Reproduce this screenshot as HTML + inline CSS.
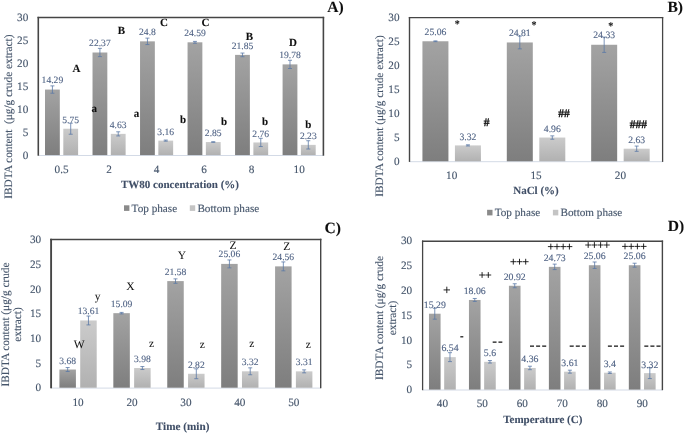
<!DOCTYPE html>
<html><head><meta charset="utf-8"><title>Figure</title>
<style>
html,body{margin:0;padding:0;background:#fff;}
body{width:685px;height:433px;overflow:hidden;font-family:"Liberation Serif",serif;}
svg{display:block;font-family:"Liberation Serif",serif;text-rendering:geometricPrecision;}
</style></head><body>
<svg width="685" height="433" viewBox="0 0 685 433">
<defs>
<linearGradient id="gt" x1="0" y1="0" x2="0" y2="1"><stop offset="0" stop-color="#a3a3a3"/><stop offset="1" stop-color="#7e7e7e"/></linearGradient>
<linearGradient id="gb" x1="0" y1="0" x2="0" y2="1"><stop offset="0" stop-color="#cbcbcb"/><stop offset="1" stop-color="#b1b1b1"/></linearGradient>
<filter id="soft" x="-2%" y="-2%" width="104%" height="104%"><feGaussianBlur stdDeviation="0.4"/></filter>
</defs>
<rect width="685" height="433" fill="#fff"/>
<g filter="url(#soft)">
<text x="28.30" y="158.80" font-size="11.2" fill="#44546a" stroke="#44546a" stroke-width="0.12" text-anchor="end" font-weight="normal" >0</text>
<text x="28.30" y="135.87" font-size="11.2" fill="#44546a" stroke="#44546a" stroke-width="0.12" text-anchor="end" font-weight="normal" >5</text>
<text x="28.30" y="112.93" font-size="11.2" fill="#44546a" stroke="#44546a" stroke-width="0.12" text-anchor="end" font-weight="normal" >10</text>
<text x="28.30" y="90.00" font-size="11.2" fill="#44546a" stroke="#44546a" stroke-width="0.12" text-anchor="end" font-weight="normal" >15</text>
<text x="28.30" y="67.07" font-size="11.2" fill="#44546a" stroke="#44546a" stroke-width="0.12" text-anchor="end" font-weight="normal" >20</text>
<text x="28.30" y="44.13" font-size="11.2" fill="#44546a" stroke="#44546a" stroke-width="0.12" text-anchor="end" font-weight="normal" >25</text>
<text x="28.30" y="21.20" font-size="11.2" fill="#44546a" stroke="#44546a" stroke-width="0.12" text-anchor="end" font-weight="normal" >30</text>
<path d="M38.30 155.50H323.40" stroke="#d3dae6" stroke-width="1"/>
<rect x="45.01" y="89.56" width="14.80" height="65.54" fill="url(#gt)"/>
<path d="M52.41 85.89V93.23M50.41 85.89H54.41M50.41 93.23H54.41" stroke="#5b78a6" stroke-width="0.8" fill="none"/>
<text x="52.41" y="83.46" font-size="9.6" fill="#4f6284" stroke="#4f6284" stroke-width="0.12" text-anchor="middle" font-weight="normal" >14.29</text>
<rect x="63.31" y="128.73" width="14.80" height="26.37" fill="url(#gb)"/>
<path d="M70.71 123.22V134.23M68.71 123.22H72.71M68.71 134.23H72.71" stroke="#5b78a6" stroke-width="0.8" fill="none"/>
<text x="70.71" y="123.13" font-size="9.6" fill="#4f6284" stroke="#4f6284" stroke-width="0.12" text-anchor="middle" font-weight="normal" >5.75</text>
<text x="61.56" y="172.50" font-size="11.2" fill="#44546a" stroke="#44546a" stroke-width="0.12" text-anchor="middle" font-weight="normal" >0.5</text>
<rect x="92.52" y="52.50" width="14.80" height="102.60" fill="url(#gt)"/>
<path d="M99.92 48.37V56.62M97.92 48.37H101.92M97.92 56.62H101.92" stroke="#5b78a6" stroke-width="0.8" fill="none"/>
<text x="99.92" y="46.40" font-size="9.6" fill="#4f6284" stroke="#4f6284" stroke-width="0.12" text-anchor="middle" font-weight="normal" >22.37</text>
<rect x="110.82" y="133.86" width="14.80" height="21.24" fill="url(#gb)"/>
<path d="M118.22 131.80V135.93M116.22 131.80H120.22M116.22 135.93H120.22" stroke="#5b78a6" stroke-width="0.8" fill="none"/>
<text x="118.22" y="128.26" font-size="9.6" fill="#4f6284" stroke="#4f6284" stroke-width="0.12" text-anchor="middle" font-weight="normal" >4.63</text>
<text x="109.07" y="172.50" font-size="11.2" fill="#44546a" stroke="#44546a" stroke-width="0.12" text-anchor="middle" font-weight="normal" >2</text>
<rect x="140.04" y="41.35" width="14.80" height="113.75" fill="url(#gt)"/>
<path d="M147.44 38.14V44.56M145.44 38.14H149.44M145.44 44.56H149.44" stroke="#5b78a6" stroke-width="0.8" fill="none"/>
<text x="147.44" y="35.25" font-size="9.6" fill="#4f6284" stroke="#4f6284" stroke-width="0.12" text-anchor="middle" font-weight="normal" >24.8</text>
<rect x="158.34" y="140.61" width="14.80" height="14.49" fill="url(#gb)"/>
<path d="M165.74 140.06V141.16M163.74 140.06H167.74M163.74 141.16H167.74" stroke="#5b78a6" stroke-width="0.8" fill="none"/>
<text x="165.74" y="135.01" font-size="9.6" fill="#4f6284" stroke="#4f6284" stroke-width="0.12" text-anchor="middle" font-weight="normal" >3.16</text>
<text x="156.59" y="172.50" font-size="11.2" fill="#44546a" stroke="#44546a" stroke-width="0.12" text-anchor="middle" font-weight="normal" >4</text>
<rect x="187.56" y="42.31" width="14.80" height="112.79" fill="url(#gt)"/>
<path d="M194.96 41.40V43.23M192.96 41.40H196.96M192.96 43.23H196.96" stroke="#5b78a6" stroke-width="0.8" fill="none"/>
<text x="194.96" y="36.21" font-size="9.6" fill="#4f6284" stroke="#4f6284" stroke-width="0.12" text-anchor="middle" font-weight="normal" >24.59</text>
<rect x="205.86" y="142.03" width="14.80" height="13.07" fill="url(#gb)"/>
<path d="M213.26 141.75V142.30M211.26 141.75H215.26M211.26 142.30H215.26" stroke="#5b78a6" stroke-width="0.8" fill="none"/>
<text x="213.26" y="136.43" font-size="9.6" fill="#4f6284" stroke="#4f6284" stroke-width="0.12" text-anchor="middle" font-weight="normal" >2.85</text>
<text x="204.11" y="172.50" font-size="11.2" fill="#44546a" stroke="#44546a" stroke-width="0.12" text-anchor="middle" font-weight="normal" >6</text>
<rect x="235.07" y="54.88" width="14.80" height="100.22" fill="url(#gt)"/>
<path d="M242.47 53.05V56.72M240.47 53.05H244.47M240.47 56.72H244.47" stroke="#5b78a6" stroke-width="0.8" fill="none"/>
<text x="242.47" y="48.78" font-size="9.6" fill="#4f6284" stroke="#4f6284" stroke-width="0.12" text-anchor="middle" font-weight="normal" >21.85</text>
<rect x="253.37" y="142.44" width="14.80" height="12.66" fill="url(#gb)"/>
<path d="M260.77 138.31V146.57M258.77 138.31H262.77M258.77 146.57H262.77" stroke="#5b78a6" stroke-width="0.8" fill="none"/>
<text x="260.77" y="136.84" font-size="9.6" fill="#4f6284" stroke="#4f6284" stroke-width="0.12" text-anchor="middle" font-weight="normal" >2.76</text>
<text x="251.62" y="172.50" font-size="11.2" fill="#44546a" stroke="#44546a" stroke-width="0.12" text-anchor="middle" font-weight="normal" >8</text>
<rect x="282.59" y="64.38" width="14.80" height="90.72" fill="url(#gt)"/>
<path d="M289.99 60.25V68.50M287.99 60.25H291.99M287.99 68.50H291.99" stroke="#5b78a6" stroke-width="0.8" fill="none"/>
<text x="289.99" y="58.28" font-size="9.6" fill="#4f6284" stroke="#4f6284" stroke-width="0.12" text-anchor="middle" font-weight="normal" >19.78</text>
<rect x="300.89" y="144.87" width="14.80" height="10.23" fill="url(#gb)"/>
<path d="M308.29 140.74V149.00M306.29 140.74H310.29M306.29 149.00H310.29" stroke="#5b78a6" stroke-width="0.8" fill="none"/>
<text x="308.29" y="139.27" font-size="9.6" fill="#4f6284" stroke="#4f6284" stroke-width="0.12" text-anchor="middle" font-weight="normal" >2.23</text>
<text x="299.14" y="172.50" font-size="11.2" fill="#44546a" stroke="#44546a" stroke-width="0.12" text-anchor="middle" font-weight="normal" >10</text>
<path d="M38.30 155.70V16.85" stroke="#454545" stroke-width="1.6" fill="none"/>
<path d="M323.40 155.70V16.85" stroke="#454545" stroke-width="1.6" fill="none"/>
<path d="M37.50 17.50H324.20" stroke="#454545" stroke-width="1.3" fill="none"/>
<text x="180.00" y="187.70" font-size="11" fill="#3f4e66" stroke="#3f4e66" stroke-width="0.1" text-anchor="middle" font-weight="bold" >TW80 concentration (%)</text>
<text transform="translate(12.20 116.60) rotate(-90)" font-size="11.3" fill="#44546a" stroke="#44546a" stroke-width="0.12" text-anchor="middle">IBDTA content&#160; (μg/g crude extract)</text>
<text x="327.30" y="11.70" font-size="15.6" fill="#111" stroke="#111" stroke-width="0.1" text-anchor="start" font-weight="bold" >A)</text>
<rect x="124.00" y="205.30" width="5.4" height="5.6" fill="#8a8a8a"/>
<text x="131.60" y="211.60" font-size="11.2" fill="#44546a" stroke="#44546a" stroke-width="0.12" text-anchor="start" font-weight="normal" >Top phase</text>
<rect x="189.80" y="205.30" width="5.4" height="5.6" fill="#c4c4c4"/>
<text x="197.40" y="211.60" font-size="11.2" fill="#44546a" stroke="#44546a" stroke-width="0.12" text-anchor="start" font-weight="normal" >Bottom phase</text>
<text x="76.60" y="71.90" font-size="11" fill="#111" stroke="#111" stroke-width="0.1" text-anchor="middle" font-weight="bold" >A</text>
<text x="121.40" y="34.30" font-size="11" fill="#111" stroke="#111" stroke-width="0.1" text-anchor="middle" font-weight="bold" >B</text>
<text x="164.00" y="26.20" font-size="11" fill="#111" stroke="#111" stroke-width="0.1" text-anchor="middle" font-weight="bold" >C</text>
<text x="205.40" y="26.20" font-size="11" fill="#111" stroke="#111" stroke-width="0.1" text-anchor="middle" font-weight="bold" >C</text>
<text x="249.40" y="40.30" font-size="11" fill="#111" stroke="#111" stroke-width="0.1" text-anchor="middle" font-weight="bold" >B</text>
<text x="293.10" y="45.80" font-size="11" fill="#111" stroke="#111" stroke-width="0.1" text-anchor="middle" font-weight="bold" >D</text>
<text x="94.20" y="111.90" font-size="11" fill="#111" stroke="#111" stroke-width="0.1" text-anchor="middle" font-weight="bold" >a</text>
<text x="136.40" y="116.90" font-size="11" fill="#111" stroke="#111" stroke-width="0.1" text-anchor="middle" font-weight="bold" >a</text>
<text x="183.00" y="123.20" font-size="11" fill="#111" stroke="#111" stroke-width="0.1" text-anchor="middle" font-weight="bold" >b</text>
<text x="224.00" y="125.00" font-size="11" fill="#111" stroke="#111" stroke-width="0.1" text-anchor="middle" font-weight="bold" >b</text>
<text x="265.00" y="125.20" font-size="11" fill="#111" stroke="#111" stroke-width="0.1" text-anchor="middle" font-weight="bold" >b</text>
<text x="308.20" y="127.50" font-size="11" fill="#111" stroke="#111" stroke-width="0.1" text-anchor="middle" font-weight="bold" >b</text>
<text x="399.50" y="165.00" font-size="11.2" fill="#44546a" stroke="#44546a" stroke-width="0.12" text-anchor="end" font-weight="normal" >0</text>
<text x="399.50" y="141.05" font-size="11.2" fill="#44546a" stroke="#44546a" stroke-width="0.12" text-anchor="end" font-weight="normal" >5</text>
<text x="399.50" y="117.10" font-size="11.2" fill="#44546a" stroke="#44546a" stroke-width="0.12" text-anchor="end" font-weight="normal" >10</text>
<text x="399.50" y="93.15" font-size="11.2" fill="#44546a" stroke="#44546a" stroke-width="0.12" text-anchor="end" font-weight="normal" >15</text>
<text x="399.50" y="69.20" font-size="11.2" fill="#44546a" stroke="#44546a" stroke-width="0.12" text-anchor="end" font-weight="normal" >20</text>
<text x="399.50" y="45.25" font-size="11.2" fill="#44546a" stroke="#44546a" stroke-width="0.12" text-anchor="end" font-weight="normal" >25</text>
<text x="399.50" y="21.30" font-size="11.2" fill="#44546a" stroke="#44546a" stroke-width="0.12" text-anchor="end" font-weight="normal" >30</text>
<path d="M409.50 161.70H662.60" stroke="#d3dae6" stroke-width="1"/>
<rect x="422.43" y="41.26" width="26.00" height="120.04" fill="url(#gt)"/>
<path d="M435.43 40.88V41.65M433.43 40.88H437.43M433.43 41.65H437.43" stroke="#5b78a6" stroke-width="0.8" fill="none"/>
<text x="435.43" y="34.86" font-size="9.7" fill="#4f6284" stroke="#4f6284" stroke-width="0.12" text-anchor="middle" font-weight="normal" >25.06</text>
<rect x="454.93" y="145.40" width="26.00" height="15.90" fill="url(#gb)"/>
<path d="M467.93 144.82V145.97M465.93 144.82H469.93M465.93 145.97H469.93" stroke="#5b78a6" stroke-width="0.8" fill="none"/>
<text x="467.93" y="139.80" font-size="9.7" fill="#4f6284" stroke="#4f6284" stroke-width="0.12" text-anchor="middle" font-weight="normal" >3.32</text>
<text x="451.68" y="178.90" font-size="11.2" fill="#44546a" stroke="#44546a" stroke-width="0.12" text-anchor="middle" font-weight="normal" >10</text>
<rect x="506.80" y="42.46" width="26.00" height="118.84" fill="url(#gt)"/>
<path d="M519.80 36.09V48.83M517.80 36.09H521.80M517.80 48.83H521.80" stroke="#5b78a6" stroke-width="0.8" fill="none"/>
<text x="519.80" y="36.06" font-size="9.7" fill="#4f6284" stroke="#4f6284" stroke-width="0.12" text-anchor="middle" font-weight="normal" >24.81</text>
<rect x="539.30" y="137.54" width="26.00" height="23.76" fill="url(#gb)"/>
<path d="M552.30 135.87V139.22M550.30 135.87H554.30M550.30 139.22H554.30" stroke="#5b78a6" stroke-width="0.8" fill="none"/>
<text x="552.30" y="131.94" font-size="9.7" fill="#4f6284" stroke="#4f6284" stroke-width="0.12" text-anchor="middle" font-weight="normal" >4.96</text>
<text x="536.05" y="178.90" font-size="11.2" fill="#44546a" stroke="#44546a" stroke-width="0.12" text-anchor="middle" font-weight="normal" >15</text>
<rect x="591.17" y="44.76" width="26.00" height="116.54" fill="url(#gt)"/>
<path d="M604.17 37.10V52.42M602.17 37.10H606.17M602.17 52.42H606.17" stroke="#5b78a6" stroke-width="0.8" fill="none"/>
<text x="604.17" y="38.36" font-size="9.7" fill="#4f6284" stroke="#4f6284" stroke-width="0.12" text-anchor="middle" font-weight="normal" >24.33</text>
<rect x="623.67" y="148.70" width="26.00" height="12.60" fill="url(#gb)"/>
<path d="M636.67 146.07V151.34M634.67 146.07H638.67M634.67 151.34H638.67" stroke="#5b78a6" stroke-width="0.8" fill="none"/>
<text x="636.67" y="143.10" font-size="9.7" fill="#4f6284" stroke="#4f6284" stroke-width="0.12" text-anchor="middle" font-weight="normal" >2.63</text>
<text x="620.42" y="178.90" font-size="11.2" fill="#44546a" stroke="#44546a" stroke-width="0.12" text-anchor="middle" font-weight="normal" >20</text>
<path d="M409.50 161.90V16.95" stroke="#454545" stroke-width="1.4" fill="none"/>
<path d="M662.60 161.90V16.95" stroke="#454545" stroke-width="1.3" fill="none"/>
<path d="M408.80 17.60H663.25" stroke="#454545" stroke-width="1.3" fill="none"/>
<text x="536.00" y="194.30" font-size="11" fill="#3f4e66" stroke="#3f4e66" stroke-width="0.1" text-anchor="middle" font-weight="bold" >NaCl (%)</text>
<text transform="translate(382.80 116.00) rotate(-90)" font-size="11.3" fill="#44546a" stroke="#44546a" stroke-width="0.12" text-anchor="middle">IBDTA content (μg/g crude extract)</text>
<text x="667.40" y="11.70" font-size="15.6" fill="#111" stroke="#111" stroke-width="0.1" text-anchor="start" font-weight="bold" >B)</text>
<rect x="487.10" y="209.80" width="5.4" height="5.6" fill="#8a8a8a"/>
<text x="494.70" y="216.10" font-size="11.2" fill="#44546a" stroke="#44546a" stroke-width="0.12" text-anchor="start" font-weight="normal" >Top phase</text>
<rect x="552.90" y="209.80" width="5.4" height="5.6" fill="#c4c4c4"/>
<text x="560.50" y="216.10" font-size="11.2" fill="#44546a" stroke="#44546a" stroke-width="0.12" text-anchor="start" font-weight="normal" >Bottom phase</text>
<text x="457.30" y="27.40" font-size="10" fill="#111" stroke="#111" stroke-width="0.1" text-anchor="middle" font-weight="bold" >*</text>
<text x="533.90" y="28.40" font-size="10" fill="#111" stroke="#111" stroke-width="0.1" text-anchor="middle" font-weight="bold" >*</text>
<text x="610.80" y="28.70" font-size="10" fill="#111" stroke="#111" stroke-width="0.1" text-anchor="middle" font-weight="bold" >*</text>
<text x="486.70" y="125.80" font-size="11.5" fill="#111" stroke="#111" stroke-width="0.3" text-anchor="middle" font-weight="bold" >#</text>
<text x="564.00" y="117.40" font-size="11.5" fill="#111" stroke="#111" stroke-width="0.3" text-anchor="middle" font-weight="bold" >##</text>
<text x="638.40" y="128.40" font-size="11.5" fill="#111" stroke="#111" stroke-width="0.3" text-anchor="middle" font-weight="bold" >###</text>
<text x="41.20" y="391.40" font-size="11.2" fill="#44546a" stroke="#44546a" stroke-width="0.12" text-anchor="end" font-weight="normal" >0</text>
<text x="41.20" y="366.70" font-size="11.2" fill="#44546a" stroke="#44546a" stroke-width="0.12" text-anchor="end" font-weight="normal" >5</text>
<text x="41.20" y="342.00" font-size="11.2" fill="#44546a" stroke="#44546a" stroke-width="0.12" text-anchor="end" font-weight="normal" >10</text>
<text x="41.20" y="317.30" font-size="11.2" fill="#44546a" stroke="#44546a" stroke-width="0.12" text-anchor="end" font-weight="normal" >15</text>
<text x="41.20" y="292.60" font-size="11.2" fill="#44546a" stroke="#44546a" stroke-width="0.12" text-anchor="end" font-weight="normal" >20</text>
<text x="41.20" y="267.90" font-size="11.2" fill="#44546a" stroke="#44546a" stroke-width="0.12" text-anchor="end" font-weight="normal" >25</text>
<text x="41.20" y="243.20" font-size="11.2" fill="#44546a" stroke="#44546a" stroke-width="0.12" text-anchor="end" font-weight="normal" >30</text>
<path d="M51.10 388.10H320.70" stroke="#d3dae6" stroke-width="1"/>
<rect x="59.41" y="369.52" width="16.50" height="18.18" fill="url(#gt)"/>
<path d="M67.66 367.54V371.50M65.66 367.54H69.66M65.66 371.50H69.66" stroke="#5b78a6" stroke-width="0.8" fill="none"/>
<text x="67.66" y="364.02" font-size="9.6" fill="#4f6284" stroke="#4f6284" stroke-width="0.12" text-anchor="middle" font-weight="normal" >3.68</text>
<rect x="80.21" y="320.47" width="16.50" height="67.23" fill="url(#gb)"/>
<path d="M88.46 316.02V324.91M86.46 316.02H90.46M86.46 324.91H90.46" stroke="#5b78a6" stroke-width="0.8" fill="none"/>
<text x="88.46" y="313.97" font-size="9.6" fill="#4f6284" stroke="#4f6284" stroke-width="0.12" text-anchor="middle" font-weight="normal" >13.61</text>
<text x="78.06" y="405.70" font-size="11.2" fill="#44546a" stroke="#44546a" stroke-width="0.12" text-anchor="middle" font-weight="normal" >10</text>
<rect x="113.33" y="313.16" width="16.50" height="74.54" fill="url(#gt)"/>
<path d="M121.58 312.41V313.90M119.58 312.41H123.58M119.58 313.90H123.58" stroke="#5b78a6" stroke-width="0.8" fill="none"/>
<text x="121.58" y="306.96" font-size="9.6" fill="#4f6284" stroke="#4f6284" stroke-width="0.12" text-anchor="middle" font-weight="normal" >15.09</text>
<rect x="134.13" y="368.04" width="16.50" height="19.66" fill="url(#gb)"/>
<path d="M142.38 366.56V369.52M140.38 366.56H144.38M140.38 369.52H144.38" stroke="#5b78a6" stroke-width="0.8" fill="none"/>
<text x="142.38" y="362.04" font-size="9.6" fill="#4f6284" stroke="#4f6284" stroke-width="0.12" text-anchor="middle" font-weight="normal" >3.98</text>
<text x="131.98" y="405.70" font-size="11.2" fill="#44546a" stroke="#44546a" stroke-width="0.12" text-anchor="middle" font-weight="normal" >20</text>
<rect x="167.25" y="281.09" width="16.50" height="106.61" fill="url(#gt)"/>
<path d="M175.50 278.87V283.32M173.50 278.87H177.50M173.50 283.32H177.50" stroke="#5b78a6" stroke-width="0.8" fill="none"/>
<text x="175.50" y="274.59" font-size="9.6" fill="#4f6284" stroke="#4f6284" stroke-width="0.12" text-anchor="middle" font-weight="normal" >21.58</text>
<rect x="188.05" y="373.77" width="16.50" height="13.93" fill="url(#gb)"/>
<path d="M196.30 368.83V378.71M194.30 368.83H198.30M194.30 378.71H198.30" stroke="#5b78a6" stroke-width="0.8" fill="none"/>
<text x="196.30" y="367.77" font-size="9.6" fill="#4f6284" stroke="#4f6284" stroke-width="0.12" text-anchor="middle" font-weight="normal" >2.82</text>
<text x="185.90" y="405.70" font-size="11.2" fill="#44546a" stroke="#44546a" stroke-width="0.12" text-anchor="middle" font-weight="normal" >30</text>
<rect x="221.17" y="263.90" width="16.50" height="123.80" fill="url(#gt)"/>
<path d="M229.42 259.95V267.86M227.42 259.95H231.42M227.42 267.86H231.42" stroke="#5b78a6" stroke-width="0.8" fill="none"/>
<text x="229.42" y="257.10" font-size="9.6" fill="#4f6284" stroke="#4f6284" stroke-width="0.12" text-anchor="middle" font-weight="normal" >25.06</text>
<rect x="241.97" y="371.30" width="16.50" height="16.40" fill="url(#gb)"/>
<path d="M250.22 367.84V374.76M248.22 367.84H252.22M248.22 374.76H252.22" stroke="#5b78a6" stroke-width="0.8" fill="none"/>
<text x="250.22" y="365.30" font-size="9.6" fill="#4f6284" stroke="#4f6284" stroke-width="0.12" text-anchor="middle" font-weight="normal" >3.32</text>
<text x="239.82" y="405.70" font-size="11.2" fill="#44546a" stroke="#44546a" stroke-width="0.12" text-anchor="middle" font-weight="normal" >40</text>
<rect x="275.09" y="266.37" width="16.50" height="121.33" fill="url(#gt)"/>
<path d="M283.34 261.93V270.82M281.34 261.93H285.34M281.34 270.82H285.34" stroke="#5b78a6" stroke-width="0.8" fill="none"/>
<text x="283.34" y="259.67" font-size="9.6" fill="#4f6284" stroke="#4f6284" stroke-width="0.12" text-anchor="middle" font-weight="normal" >24.56</text>
<rect x="295.89" y="371.35" width="16.50" height="16.35" fill="url(#gb)"/>
<path d="M304.14 369.87V372.83M302.14 369.87H306.14M302.14 372.83H306.14" stroke="#5b78a6" stroke-width="0.8" fill="none"/>
<text x="304.14" y="365.35" font-size="9.6" fill="#4f6284" stroke="#4f6284" stroke-width="0.12" text-anchor="middle" font-weight="normal" >3.31</text>
<text x="293.74" y="405.70" font-size="11.2" fill="#44546a" stroke="#44546a" stroke-width="0.12" text-anchor="middle" font-weight="normal" >50</text>
<path d="M51.10 388.30V238.80" stroke="#454545" stroke-width="1.9" fill="none"/>
<path d="M320.70 388.30V238.80" stroke="#454545" stroke-width="1.4" fill="none"/>
<path d="M50.15 239.50H321.40" stroke="#454545" stroke-width="1.4" fill="none"/>
<text x="182.60" y="430.30" font-size="11.2" fill="#3f4e66" stroke="#3f4e66" stroke-width="0.1" text-anchor="middle" font-weight="bold" >Time (min)</text>
<text transform="translate(8.80 324.50) rotate(-90)" font-size="11.3" fill="#44546a" stroke="#44546a" stroke-width="0.12" text-anchor="middle">IBDTA content (μg/g crude</text>
<text transform="translate(21.30 324.50) rotate(-90)" font-size="11.3" fill="#44546a" stroke="#44546a" stroke-width="0.12" text-anchor="middle">extract)</text>
<text x="324.60" y="233.40" font-size="15.6" fill="#111" stroke="#111" stroke-width="0.1" text-anchor="start" font-weight="bold" >C)</text>
<text x="79.10" y="347.90" font-size="11.5" fill="#111" stroke="#111" stroke-width="0.05" text-anchor="middle" font-weight="normal" >W</text>
<text x="97.60" y="300.40" font-size="11.5" fill="#111" stroke="#111" stroke-width="0.05" text-anchor="middle" font-weight="normal" >y</text>
<text x="130.40" y="289.70" font-size="11.5" fill="#111" stroke="#111" stroke-width="0.05" text-anchor="middle" font-weight="normal" >X</text>
<text x="151.50" y="347.30" font-size="11.5" fill="#111" stroke="#111" stroke-width="0.05" text-anchor="middle" font-weight="normal" >z</text>
<text x="182.00" y="258.80" font-size="11.5" fill="#111" stroke="#111" stroke-width="0.05" text-anchor="middle" font-weight="normal" >Y</text>
<text x="233.10" y="248.60" font-size="11.5" fill="#111" stroke="#111" stroke-width="0.05" text-anchor="middle" font-weight="normal" >Z</text>
<text x="286.70" y="250.40" font-size="11.5" fill="#111" stroke="#111" stroke-width="0.05" text-anchor="middle" font-weight="normal" >Z</text>
<text x="202.20" y="347.70" font-size="11.5" fill="#111" stroke="#111" stroke-width="0.05" text-anchor="middle" font-weight="normal" >z</text>
<text x="251.90" y="346.90" font-size="11.5" fill="#111" stroke="#111" stroke-width="0.05" text-anchor="middle" font-weight="normal" >z</text>
<text x="308.40" y="347.70" font-size="11.5" fill="#111" stroke="#111" stroke-width="0.05" text-anchor="middle" font-weight="normal" >z</text>
<text x="412.10" y="393.30" font-size="11.2" fill="#44546a" stroke="#44546a" stroke-width="0.12" text-anchor="end" font-weight="normal" >0</text>
<text x="412.10" y="368.48" font-size="11.2" fill="#44546a" stroke="#44546a" stroke-width="0.12" text-anchor="end" font-weight="normal" >5</text>
<text x="412.10" y="343.67" font-size="11.2" fill="#44546a" stroke="#44546a" stroke-width="0.12" text-anchor="end" font-weight="normal" >10</text>
<text x="412.10" y="318.85" font-size="11.2" fill="#44546a" stroke="#44546a" stroke-width="0.12" text-anchor="end" font-weight="normal" >15</text>
<text x="412.10" y="294.03" font-size="11.2" fill="#44546a" stroke="#44546a" stroke-width="0.12" text-anchor="end" font-weight="normal" >20</text>
<text x="412.10" y="269.22" font-size="11.2" fill="#44546a" stroke="#44546a" stroke-width="0.12" text-anchor="end" font-weight="normal" >25</text>
<text x="412.10" y="244.40" font-size="11.2" fill="#44546a" stroke="#44546a" stroke-width="0.12" text-anchor="end" font-weight="normal" >30</text>
<path d="M422.60 390.00H662.40" stroke="#d3dae6" stroke-width="1"/>
<rect x="428.98" y="313.71" width="11.60" height="75.89" fill="url(#gt)"/>
<path d="M434.78 308.25V319.17M432.78 308.25H436.78M432.78 319.17H436.78" stroke="#5b78a6" stroke-width="0.8" fill="none"/>
<text x="434.78" y="307.81" font-size="9.8" fill="#4f6284" stroke="#4f6284" stroke-width="0.12" text-anchor="middle" font-weight="normal" >15.29</text>
<rect x="444.18" y="357.14" width="11.60" height="32.46" fill="url(#gb)"/>
<path d="M449.98 352.67V361.61M447.98 352.67H451.98M447.98 361.61H451.98" stroke="#5b78a6" stroke-width="0.8" fill="none"/>
<text x="449.98" y="350.84" font-size="9.8" fill="#4f6284" stroke="#4f6284" stroke-width="0.12" text-anchor="middle" font-weight="normal" >6.54</text>
<text x="442.38" y="407.10" font-size="11.2" fill="#44546a" stroke="#44546a" stroke-width="0.12" text-anchor="middle" font-weight="normal" >40</text>
<rect x="468.95" y="299.96" width="11.60" height="89.64" fill="url(#gt)"/>
<path d="M474.75 298.47V301.45M472.75 298.47H476.75M472.75 301.45H476.75" stroke="#5b78a6" stroke-width="0.8" fill="none"/>
<text x="474.75" y="294.06" font-size="9.8" fill="#4f6284" stroke="#4f6284" stroke-width="0.12" text-anchor="middle" font-weight="normal" >18.06</text>
<rect x="484.15" y="361.81" width="11.60" height="27.79" fill="url(#gb)"/>
<path d="M489.95 360.56V363.05M487.95 360.56H491.95M487.95 363.05H491.95" stroke="#5b78a6" stroke-width="0.8" fill="none"/>
<text x="489.95" y="356.21" font-size="9.8" fill="#4f6284" stroke="#4f6284" stroke-width="0.12" text-anchor="middle" font-weight="normal" >5.6</text>
<text x="482.35" y="407.10" font-size="11.2" fill="#44546a" stroke="#44546a" stroke-width="0.12" text-anchor="middle" font-weight="normal" >50</text>
<rect x="508.92" y="285.77" width="11.60" height="103.83" fill="url(#gt)"/>
<path d="M514.72 283.78V287.75M512.72 283.78H516.72M512.72 287.75H516.72" stroke="#5b78a6" stroke-width="0.8" fill="none"/>
<text x="514.72" y="279.87" font-size="9.8" fill="#4f6284" stroke="#4f6284" stroke-width="0.12" text-anchor="middle" font-weight="normal" >20.92</text>
<rect x="524.12" y="367.96" width="11.60" height="21.64" fill="url(#gb)"/>
<path d="M529.92 366.22V369.70M527.92 366.22H531.92M527.92 369.70H531.92" stroke="#5b78a6" stroke-width="0.8" fill="none"/>
<text x="529.92" y="362.36" font-size="9.8" fill="#4f6284" stroke="#4f6284" stroke-width="0.12" text-anchor="middle" font-weight="normal" >4.36</text>
<text x="522.32" y="407.10" font-size="11.2" fill="#44546a" stroke="#44546a" stroke-width="0.12" text-anchor="middle" font-weight="normal" >60</text>
<rect x="548.88" y="266.86" width="11.60" height="122.74" fill="url(#gt)"/>
<path d="M554.68 264.13V269.59M552.68 264.13H556.68M552.68 269.59H556.68" stroke="#5b78a6" stroke-width="0.8" fill="none"/>
<text x="554.68" y="260.96" font-size="9.8" fill="#4f6284" stroke="#4f6284" stroke-width="0.12" text-anchor="middle" font-weight="normal" >24.73</text>
<rect x="564.08" y="371.68" width="11.60" height="17.92" fill="url(#gb)"/>
<path d="M569.88 370.19V373.17M567.88 370.19H571.88M567.88 373.17H571.88" stroke="#5b78a6" stroke-width="0.8" fill="none"/>
<text x="569.88" y="366.08" font-size="9.8" fill="#4f6284" stroke="#4f6284" stroke-width="0.12" text-anchor="middle" font-weight="normal" >3.61</text>
<text x="562.28" y="407.10" font-size="11.2" fill="#44546a" stroke="#44546a" stroke-width="0.12" text-anchor="middle" font-weight="normal" >70</text>
<rect x="588.85" y="265.22" width="11.60" height="124.38" fill="url(#gt)"/>
<path d="M594.65 261.99V268.45M592.65 261.99H596.65M592.65 268.45H596.65" stroke="#5b78a6" stroke-width="0.8" fill="none"/>
<text x="594.65" y="259.32" font-size="9.8" fill="#4f6284" stroke="#4f6284" stroke-width="0.12" text-anchor="middle" font-weight="normal" >25.06</text>
<rect x="604.05" y="372.72" width="11.60" height="16.88" fill="url(#gb)"/>
<path d="M609.85 371.98V373.47M607.85 371.98H611.85M607.85 373.47H611.85" stroke="#5b78a6" stroke-width="0.8" fill="none"/>
<text x="609.85" y="367.12" font-size="9.8" fill="#4f6284" stroke="#4f6284" stroke-width="0.12" text-anchor="middle" font-weight="normal" >3.4</text>
<text x="602.25" y="407.10" font-size="11.2" fill="#44546a" stroke="#44546a" stroke-width="0.12" text-anchor="middle" font-weight="normal" >80</text>
<rect x="628.82" y="265.22" width="11.60" height="124.38" fill="url(#gt)"/>
<path d="M634.62 263.23V267.20M632.62 263.23H636.62M632.62 267.20H636.62" stroke="#5b78a6" stroke-width="0.8" fill="none"/>
<text x="634.62" y="259.32" font-size="9.8" fill="#4f6284" stroke="#4f6284" stroke-width="0.12" text-anchor="middle" font-weight="normal" >25.06</text>
<rect x="644.02" y="373.12" width="11.60" height="16.48" fill="url(#gb)"/>
<path d="M649.82 367.66V378.58M647.82 367.66H651.82M647.82 378.58H651.82" stroke="#5b78a6" stroke-width="0.8" fill="none"/>
<text x="649.82" y="367.92" font-size="9.8" fill="#4f6284" stroke="#4f6284" stroke-width="0.12" text-anchor="middle" font-weight="normal" >3.32</text>
<text x="642.22" y="407.10" font-size="11.2" fill="#44546a" stroke="#44546a" stroke-width="0.12" text-anchor="middle" font-weight="normal" >90</text>
<path d="M422.60 390.20V240.50" stroke="#454545" stroke-width="1.3" fill="none"/>
<path d="M662.40 390.20V240.50" stroke="#454545" stroke-width="1.4" fill="none"/>
<path d="M421.95 241.30H663.10" stroke="#454545" stroke-width="1.6" fill="none"/>
<text x="542.80" y="422.90" font-size="11" fill="#3f4e66" stroke="#3f4e66" stroke-width="0.1" text-anchor="middle" font-weight="bold" >Temperature (C)</text>
<text transform="translate(382.70 318.00) rotate(-90)" font-size="11.3" fill="#44546a" stroke="#44546a" stroke-width="0.12" text-anchor="middle">IBDTA content (μg/g crude</text>
<text transform="translate(396.00 318.00) rotate(-90)" font-size="11.3" fill="#44546a" stroke="#44546a" stroke-width="0.12" text-anchor="middle">extract)</text>
<text x="667.80" y="231.00" font-size="15.6" fill="#111" stroke="#111" stroke-width="0.1" text-anchor="start" font-weight="bold" >D)</text>
<path d="M443.60 289.90H450.00M446.80 286.70V293.10" stroke="#111" stroke-width="0.9" fill="none"/>
<path d="M479.20 275.00H485.00M482.10 272.10V277.90M485.40 275.00H491.20M488.30 272.10V277.90" stroke="#111" stroke-width="0.9" fill="none"/>
<path d="M510.40 261.70H516.20M513.30 258.80V264.60M516.60 261.70H522.40M519.50 258.80V264.60M522.80 261.70H528.60M525.70 258.80V264.60" stroke="#111" stroke-width="0.9" fill="none"/>
<path d="M547.90 246.60H553.70M550.80 243.70V249.50M554.10 246.60H559.90M557.00 243.70V249.50M560.30 246.60H566.10M563.20 243.70V249.50M566.50 246.60H572.30M569.40 243.70V249.50" stroke="#111" stroke-width="0.9" fill="none"/>
<path d="M585.30 245.00H591.10M588.20 242.10V247.90M591.50 245.00H597.30M594.40 242.10V247.90M597.70 245.00H603.50M600.60 242.10V247.90M603.90 245.00H609.70M606.80 242.10V247.90" stroke="#111" stroke-width="0.9" fill="none"/>
<path d="M622.10 246.40H627.90M625.00 243.50V249.30M628.30 246.40H634.10M631.20 243.50V249.30M634.50 246.40H640.30M637.40 243.50V249.30M640.70 246.40H646.50M643.60 243.50V249.30" stroke="#111" stroke-width="0.9" fill="none"/>
<path d="M460.30 336.80H463.30" stroke="#111" stroke-width="1.2" fill="none"/>
<path d="M492.70 342.10H496.50M498.50 342.10H502.30" stroke="#111" stroke-width="1.2" fill="none"/>
<path d="M530.00 346.10H534.00M536.10 346.10H540.10M542.20 346.10H546.20" stroke="#111" stroke-width="1.2" fill="none"/>
<path d="M569.70 346.10H573.70M575.80 346.10H579.80M581.90 346.10H585.90" stroke="#111" stroke-width="1.2" fill="none"/>
<path d="M607.90 346.10H611.90M614.00 346.10H618.00M620.10 346.10H624.10" stroke="#111" stroke-width="1.2" fill="none"/>
<path d="M644.30 346.10H648.30M650.40 346.10H654.40M656.50 346.10H660.50" stroke="#111" stroke-width="1.2" fill="none"/>
</g></svg></body></html>
